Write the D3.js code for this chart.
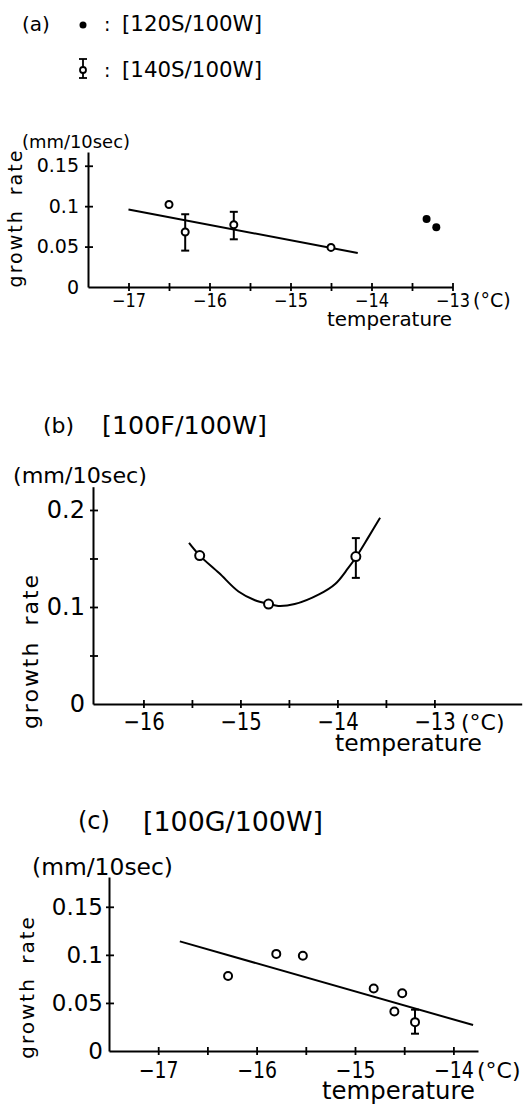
<!DOCTYPE html>
<html>
<head>
<meta charset="utf-8">
<script src="https://cdn.jsdelivr.net/npm/d3@7"></script>
<style>
  body { margin: 0; background: #fff; }
  svg { display: block; font-family: 'DejaVu Sans', sans-serif; }
</style>
</head>
<body>
<svg id="chart" width="525" height="1106"></svg>
<script>
// ---- panel (a) ----
// [140S/100W] open circles
const a140Temp = [-16.5, -16.3, -15.7, -14.5];
const a140Rate = [0.102, 0.068, 0.077, 0.049];
const a140ErrLow = [null, 0.045, 0.059, null];
const a140ErrHigh = [null, 0.090, 0.093, null];
// [120S/100W] filled dots
const a120Temp = [-13.32, -13.2];
const a120Rate = [0.084, 0.074];
// fitted line
const aFitTemp = [-17.0, -14.17];
const aFitRate = [0.096, 0.042];
const aXTicks = [-17, -16.5, -16, -15.5, -15, -14.5, -14, -13.5, -13];
const aXLabels = ['−17', '', '−16', '', '−15', '', '−14', '', '−13'];
const aYTicks = [0, 0.05, 0.1, 0.15];
const aYLabels = ['0', '0.05', '0.1', '0.15'];

// ---- panel (b) [100F/100W] ----
const bTemp = [-15.42, -14.71, -13.81];
const bRate = [0.153, 0.103, 0.152];
const bErrLow = [null, null, 0.130];
const bErrHigh = [null, null, 0.171];
const bCurveTemp = [-15.53, -15.42, -15.22, -15.02, -14.85, -14.70, -14.61, -14.44, -14.19, -14.02, -13.89, -13.81, -13.68, -13.56];
const bCurveRate = [0.166, 0.153, 0.135, 0.116, 0.107, 0.103, 0.101, 0.103, 0.113, 0.124, 0.140, 0.151, 0.172, 0.192];
const bXTicks = [-16, -15.5, -15, -14.5, -14, -13.5, -13];
const bXLabels = ['−16', '', '−15', '', '−14', '', '−13'];
const bYTicks = [0, 0.05, 0.1, 0.15, 0.2];
const bYLabels = ['0', '', '0.1', '', '0.2'];

// ---- panel (c) [100G/100W] ----
const cTemp = [-16.29, -15.80, -15.53, -14.81, -14.60, -14.52, -14.39];
const cRate = [0.078, 0.101, 0.099, 0.065, 0.041, 0.060, 0.030];
const cErrLow = [null, null, null, null, null, null, 0.018];
const cErrHigh = [null, null, null, null, null, null, 0.043];
const cFitTemp = [-16.78, -13.80];
const cFitRate = [0.114, 0.027];
const cXTicks = [-17, -16.5, -16, -15.5, -15, -14.5, -14];
const cXLabels = ['−17', '', '−16', '', '−15', '', '−14'];
const cYTicks = [0, 0.05, 0.1, 0.15];
const cYLabels = ['0', '0.05', '0.1', '0.15'];

const svg = d3.select('#chart');

function drawPanel(p) {
  const g = svg.append('g');
  const x = d3.scaleLinear().domain(p.xDomain).range(p.xRange);
  const y = d3.scaleLinear().domain(p.yDomain).range(p.yRange);

  // x axis, ticks cross the line
  const xAxis = g.append('g')
    .attr('transform', `translate(0,${p.yRange[0]})`)
    .call(d3.axisBottom(x).tickValues(p.xTicks).tickSize(4).tickSizeOuter(0)
      .tickPadding(p.xPad).tickFormat((d, i) => p.xLabels[i]));
  xAxis.selectAll('.tick line').attr('y1', -4).attr('stroke-width', 1.8);

  // y axis
  const yAxis = g.append('g')
    .attr('transform', `translate(${p.xRange[0]},0)`)
    .call(d3.axisLeft(y).tickValues(p.yTicks).tickSize(3).tickSizeOuter(0)
      .tickPadding(p.yPad).tickFormat((d, i) => p.yLabels[i]));
  yAxis.selectAll('.tick line')
    .attr('x1', d => d === 0 ? 0 : -3)
    .attr('x2', d => d === 0 ? 0 : 5)
    .attr('stroke-width', 1.8);

  [xAxis, yAxis].forEach(a => {
    a.attr('font-family', null).attr('font-size', p.tickFont);
    a.select('.domain').attr('stroke-width', 2);
    a.selectAll('.tick text').attr('fill', '#000');
  });

  // the hand lettering is narrower than the font: squeeze x labels a bit
  xAxis.selectAll('.tick text').each(function () {
    const w = this.getComputedTextLength();
    if (w > 0) d3.select(this).attr('textLength', w * p.squeeze).attr('lengthAdjust', 'spacingAndGlyphs');
  });

  // fitted line / curve
  const line = d3.line().x(d => x(d[0])).y(d => y(d[1]));
  if (p.curve) line.curve(d3.curveCatmullRom);
  g.append('path')
    .datum(d3.zip(p.fitTemp, p.fitRate))
    .attr('d', line)
    .attr('fill', 'none').attr('stroke', '#000').attr('stroke-width', 2);

  // error bars
  const errs = d3.range(p.temp.length).filter(i => p.errLow[i] !== null);
  errs.forEach(i => {
    const cx = x(p.temp[i]);
    g.append('line').attr('x1', cx).attr('x2', cx)
      .attr('y1', y(p.errLow[i])).attr('y2', y(p.errHigh[i]))
      .attr('stroke', '#000').attr('stroke-width', 2);
    [p.errLow[i], p.errHigh[i]].forEach(v => {
      g.append('line').attr('x1', cx - 4).attr('x2', cx + 4)
        .attr('y1', y(v)).attr('y2', y(v))
        .attr('stroke', '#000').attr('stroke-width', 2);
    });
  });

  // open circles
  g.selectAll('circle.open')
    .data(d3.zip(p.temp, p.rate))
    .join('circle')
    .attr('class', 'open')
    .attr('cx', d => x(d[0])).attr('cy', d => y(d[1]))
    .attr('r', p.r)
    .attr('fill', '#fff').attr('stroke', '#000').attr('stroke-width', 2);

  // filled dots
  if (p.filledTemp) {
    g.selectAll('circle.filled')
      .data(d3.zip(p.filledTemp, p.filledRate))
      .join('circle')
      .attr('class', 'filled')
      .attr('cx', d => x(d[0])).attr('cy', d => y(d[1]))
      .attr('r', 4).attr('fill', '#000');
  }

  // labels
  const t = (txt, xx, yy, size, len) => {
    const el = g.append('text').attr('x', xx).attr('y', yy)
      .attr('font-size', size).text(txt);
    if (len) el.attr('textLength', len).attr('lengthAdjust', 'spacingAndGlyphs');
    return el;
  };
  t('(mm/10sec)', p.unit[0], p.unit[1], p.unit[2], p.unit[3]);
  t('(°C)', p.deg[0], p.deg[1], p.deg[2]);
  t('temperature', p.temperature[0], p.temperature[1], p.temperature[2], p.temperature[3]);
  g.append('text')
    .attr('transform', `translate(${p.growth[0]},${p.growth[1]}) rotate(-90)`)
    .attr('text-anchor', 'middle')
    .attr('font-size', p.growth[2])
    .attr('letter-spacing', 2)
    .attr('word-spacing', p.growth[3])
    .text('growth rate');
}

// titles and legend
svg.append('text').attr('x', 22).attr('y', 31).attr('font-size', 20).text('(a)');
svg.append('circle').attr('cx', 83).attr('cy', 25).attr('r', 3.5).attr('fill', '#000');
svg.append('text').attr('x', 104).attr('y', 31).attr('font-size', 19).text(':');
svg.append('text').attr('x', 122).attr('y', 31).attr('font-size', 21)
  .attr('textLength', 140).attr('lengthAdjust', 'spacingAndGlyphs').text('[120S/100W]');
const lg = svg.append('g').attr('stroke', '#000').attr('stroke-width', 1.8);
lg.append('line').attr('x1', 83).attr('x2', 83).attr('y1', 59).attr('y2', 78);
lg.append('line').attr('x1', 79).attr('x2', 87).attr('y1', 59).attr('y2', 59);
lg.append('line').attr('x1', 79).attr('x2', 87).attr('y1', 78).attr('y2', 78);
lg.append('circle').attr('cx', 83).attr('cy', 70).attr('r', 3).attr('fill', '#fff');
svg.append('text').attr('x', 104).attr('y', 77).attr('font-size', 19).text(':');
svg.append('text').attr('x', 122).attr('y', 77).attr('font-size', 21)
  .attr('textLength', 140).attr('lengthAdjust', 'spacingAndGlyphs').text('[140S/100W]');

svg.append('text').attr('x', 43).attr('y', 433).attr('font-size', 22).text('(b)');
svg.append('text').attr('x', 102).attr('y', 434).attr('font-size', 24)
  .attr('textLength', 165).attr('lengthAdjust', 'spacingAndGlyphs').text('[100F/100W]');

svg.append('text').attr('x', 78).attr('y', 829).attr('font-size', 24).text('(c)');
svg.append('text').attr('x', 143).attr('y', 831).attr('font-size', 26)
  .attr('textLength', 180).attr('lengthAdjust', 'spacingAndGlyphs').text('[100G/100W]');

drawPanel({
  xDomain: [-17.5, -13], xRange: [88, 452.5],
  yDomain: [0, 0.167], yRange: [287, 152],
  xTicks: aXTicks, xLabels: aXLabels, yTicks: aYTicks, yLabels: aYLabels,
  xPad: 3, yPad: 6, tickFont: 19, r: 3.5, squeeze: 0.85,
  temp: a140Temp, rate: a140Rate, errLow: a140ErrLow, errHigh: a140ErrHigh,
  filledTemp: a120Temp, filledRate: a120Rate,
  fitTemp: aFitTemp, fitRate: aFitRate,
  unit: [22, 148, 18, 108], deg: [473, 307, 19],
  temperature: [327, 326, 19, 125], growth: [22, 218, 19, 6]
});

drawPanel({
  xDomain: [-16.52, -12.1], xRange: [93, 521.7],
  yDomain: [0, 0.224], yRange: [704, 486.7],
  xTicks: bXTicks, xLabels: bXLabels, yTicks: bYTicks, yLabels: bYLabels,
  xPad: 5, yPad: 5, tickFont: 24, r: 4.5, squeeze: 0.82,
  temp: bTemp, rate: bRate, errLow: bErrLow, errHigh: bErrHigh,
  fitTemp: bCurveTemp, fitRate: bCurveRate, curve: true,
  unit: [13, 483, 22, 134], deg: [461, 730, 22],
  temperature: [335, 751, 23, 147], growth: [38, 651, 22, 6]
});

drawPanel({
  xDomain: [-17.5, -13.75], xRange: [109, 478],
  yDomain: [0, 0.181], yRange: [1051, 877],
  xTicks: cXTicks, xLabels: cXLabels, yTicks: cYTicks, yLabels: cYLabels,
  xPad: 7, yPad: 3, tickFont: 23, r: 4, squeeze: 0.82,
  temp: cTemp, rate: cRate, errLow: cErrLow, errHigh: cErrHigh,
  fitTemp: cFitTemp, fitRate: cFitRate,
  unit: [32, 875, 23, 141], deg: [477, 1078, 22],
  temperature: [322, 1099, 24, 153], growth: [34, 987, 20, 5]
});
</script>
</body>
</html>
